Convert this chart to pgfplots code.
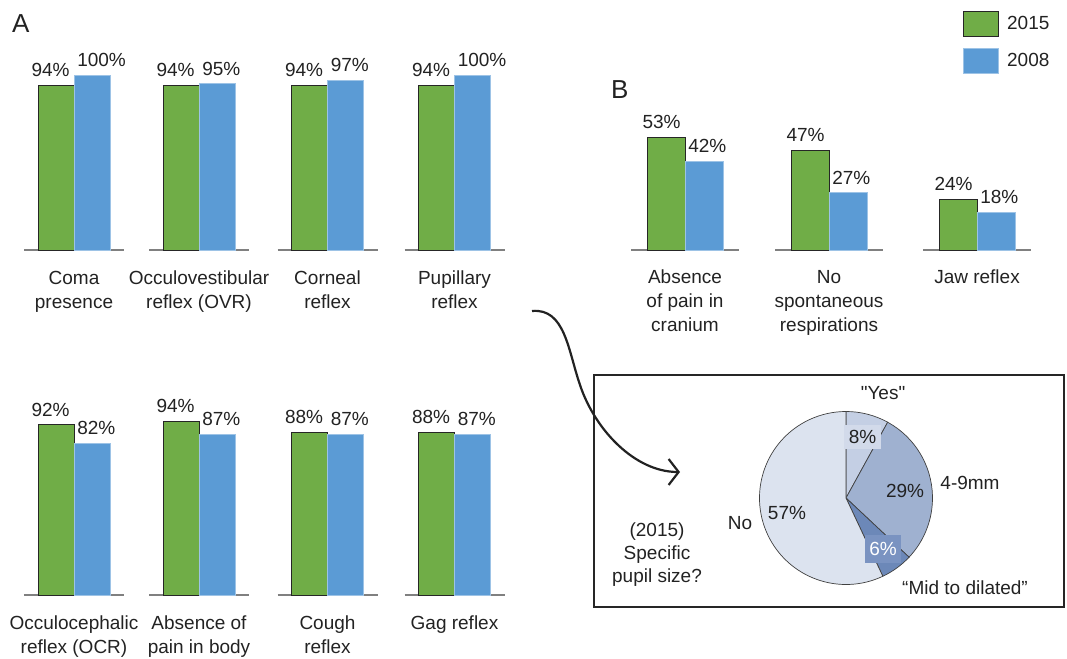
\documentclass[border=0pt]{standalone}
\usepackage{pgfplots}
\pgfplotsset{compat=1.18}
\usepackage{fontspec}
\setmainfont{Liberation Sans}[Ligatures=TeXOff]
\usetikzlibrary{arrows.meta}
\definecolor{gbar}{HTML}{70AD47}
\definecolor{bbar}{HTML}{5B9BD5}
\definecolor{bedge}{HTML}{9DC3E6}
\definecolor{pno}{HTML}{DCE3EF}
\definecolor{pyes}{HTML}{C4CFE4}
\definecolor{pmm}{HTML}{9FB1D0}
\definecolor{pmid}{HTML}{6C88B8}
\definecolor{lab8}{HTML}{D2DAEA}
\definecolor{lab6}{HTML}{7A93C1}
\definecolor{txt}{HTML}{222222}
\newcommand{\fs}{\fontsize{19}{24}\selectfont}
\pgfplotsset{
  grp/.style={scale only axis, anchor=south, clip=false,
    ymin=0, ymax=100,
    axis x line=bottom, axis y line=none,
    axis line style={-, draw=black!50, line width=1.2pt},
    xtick=\empty, ytick=\empty,
    ybar, bar shift=0pt,
    /pgf/number format/assume math mode=true,
    nodes near coords={\pgfmathprintnumber{\pgfplotspointmeta}\%},
    every node near coord/.append style={font=\fs, inner sep=0pt, text=txt},
  },
  A/.style={grp, width=100pt, xmin=-1.389, xmax=1.389, bar width=36pt},
  B/.style={grp, width=108pt, xmin=-1.421, xmax=1.421, bar width=38pt, height=212pt},
  gp/.style={fill=gbar, draw=black!85, line width=0.9pt,
    every node near coord/.append style={anchor=south east, xshift=#1, yshift=8pt}},
  gp/.default=14pt,
  bp/.style={fill=bbar, draw=bedge, line width=0.6pt,
    every node near coord/.append style={anchor=south west, xshift=#1, yshift=8pt}},
  bp/.default=-15pt,
}
\tikzset{catlab/.style={anchor=north, align=center, font=\fs, inner sep=0pt, text=txt}}
\newcommand{\grpA}[6]{%
\begin{axis}[A, at={(#1pt,#2pt)}, height=#3pt]
\addplot[gp] coordinates {(-0.5,#4)};
\addplot[bp] coordinates {(0.5,#5)};
\node[catlab, yshift=-21pt] at (axis cs:0,0) {#6};
\end{axis}}
\begin{document}
\begin{tikzpicture}[x=1pt,y=1pt]
\useasboundingbox (0,0) rectangle (1067,658);
% Panel A, top row
\grpA{74}{408}{175}{94}{100}{Coma\\presence}
\grpA{199}{408}{175}{94}{95}{Occulovestibular\\reflex (OVR)}
\grpA{327.5}{408}{175}{94}{97}{Corneal\\reflex}
\grpA{454.5}{408}{175}{94}{100}{Pupillary\\reflex}
% Panel A, bottom row
\grpA{74}{63}{185}{92}{82}{Occulocephalic\\reflex (OCR)}
\grpA{199}{63}{185}{94}{87}{Absence of\\pain in body}
\grpA{327.5}{63}{185}{88}{87}{Cough\\reflex}
\grpA{454.5}{63}{185}{88}{87}{Gag reflex}
% Panel B
\begin{axis}[B, at={(685pt,408pt)}]
\addplot[gp=15pt] coordinates {(-0.5,53)};
\addplot[bp=-16pt] coordinates {(0.5,42)};
\node[catlab, yshift=-20pt] at (axis cs:0,0) {Absence\\of pain in\\cranium};
\end{axis}
\begin{axis}[B, at={(829pt,408pt)}]
\addplot[gp=15pt] coordinates {(-0.5,47)};
\addplot[bp=-16pt] coordinates {(0.5,27)};
\node[catlab, yshift=-20pt] at (axis cs:0,0) {No\\spontaneous\\respirations};
\end{axis}
\begin{axis}[B, at={(977pt,408pt)},
  legend style={at={(0.3727,1.1274)}, anchor=north west, draw=none, fill=none,
    inner sep=0pt, outer sep=0pt, row sep=11pt, font=\fs, text=txt,
    nodes={inner sep=0pt}, cells={anchor=west},
    /tikz/every odd column/.append style={column sep=8pt}},
  legend image code/.code={\draw[#1] (0pt,-12.5pt) rectangle (35pt,12.5pt);}]
\addplot[gp=15pt] coordinates {(-0.5,24)};
\addplot[bp=-16pt] coordinates {(0.5,18)};
\node[catlab, yshift=-20pt] at (axis cs:0,0) {Jaw reflex};
\legend{2015,2008}
\end{axis}
% Panel letters
\node[anchor=base west, inner sep=0pt, font=\fontsize{26}{30}\selectfont, text=txt] at (12,625) {A};
\node[anchor=base west, inner sep=0pt, font=\fontsize{26}{30}\selectfont, text=txt] at (611,559) {B};
% Pie box
\draw[line width=2.5pt, draw=black!85] (594,283) rectangle (1064,51);
% Pie chart
\begin{axis}[at={(846pt,160pt)}, anchor=center, hide axis, scale only axis,
  width=173pt, height=173pt, xmin=-1, xmax=1, ymin=-1, ymax=1, clip=false]
\fill[pyes, draw=black!75, line width=0.7pt] (axis cs:0,0) -- ++(90:86.5pt) arc[start angle=90, delta angle={-3.6*8}, radius=86.5pt] -- cycle;
\fill[pmm, draw=black!75, line width=0.7pt] (axis cs:0,0) -- ++(61.2:86.5pt) arc[start angle=61.2, delta angle={-3.6*29}, radius=86.5pt] -- cycle;
\fill[pmid, draw=black!75, line width=0.7pt] (axis cs:0,0) -- ++(-43.2:86.5pt) arc[start angle=-43.2, delta angle={-3.6*6}, radius=86.5pt] -- cycle;
\fill[pno, draw=black!75, line width=0.7pt] (axis cs:0,0) -- ++(-64.8:86.5pt) arc[start angle=-64.8, delta angle={-3.6*57}, radius=86.5pt] -- cycle;
\end{axis}
\node[fill=lab8, text=txt, font=\fs, minimum width=37pt, minimum height=24pt, inner sep=0pt] at (862.5,221) {8\%};
\node[text=txt, font=\fs, inner sep=0pt] at (905,167) {29\%};
\node[text=txt, font=\fs, inner sep=0pt] at (787,145) {57\%};
\node[fill=lab6, text=white, font=\fs, minimum width=36pt, minimum height=28pt, inner sep=0pt] at (883,109) {6\%};
\node[text=txt, font=\fs, inner sep=0pt] at (883,265) {"Yes"};
\node[text=txt, font=\fs, inner sep=0pt] at (970,175) {4-9mm};
\node[text=txt, font=\fs, inner sep=0pt] at (740,135) {No};
\node[text=txt, font=\fs, inner sep=0pt] at (965,70) {“Mid to dilated”};
\node[text=txt, font=\fontsize{19}{23}\selectfont, align=center, inner sep=0pt] at (657,103) {(2015)\\Specific\\pupil size?};
% Arrow
\draw[line width=2.2pt, draw=txt, -{Straight Barb[length=10pt, width=26pt, line width=2.2pt]}]
  (532,347) .. controls (565,350) and (568,308) .. (580,273)
  .. controls (595,228) and (635,186) .. (680,186);
\end{tikzpicture}
\end{document}
